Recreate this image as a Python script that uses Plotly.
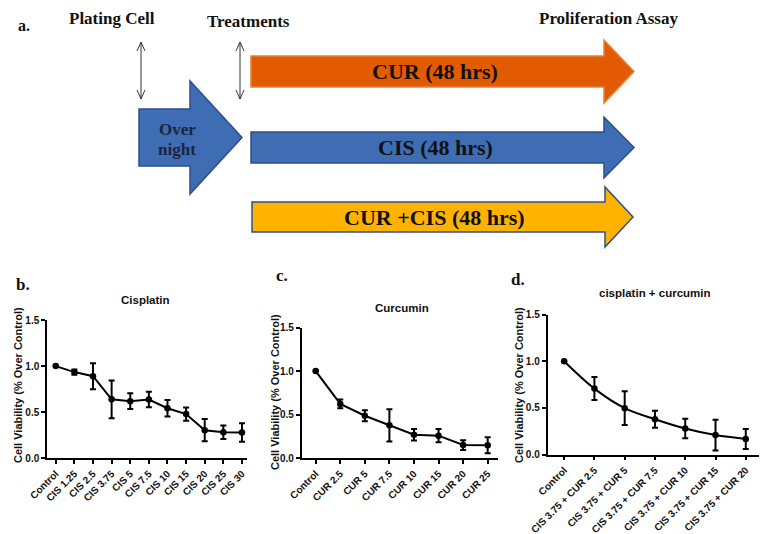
import plotly.graph_objects as go

# ---- data ----
cis_labels = ["Control", "CIS 1.25", "CIS 2.5", "CIS 3.75", "CIS 5", "CIS 7.5",
              "CIS 10", "CIS 15", "CIS 20", "CIS 25", "CIS 30"]
cis_mean = [1.0, 0.935, 0.89, 0.64, 0.62, 0.638, 0.543, 0.48, 0.305, 0.283, 0.28]
cis_err = [0, 0.028, 0.14, 0.205, 0.085, 0.085, 0.09, 0.072, 0.12, 0.074, 0.10]

cur_labels = ["Control", "CUR 2.5", "CUR 5", "CUR 7.5", "CUR 10", "CUR 15",
              "CUR 20", "CUR 25"]
cur_mean = [1.0, 0.623, 0.488, 0.378, 0.27, 0.26, 0.152, 0.15]
cur_err = [0, 0.05, 0.063, 0.185, 0.065, 0.077, 0.056, 0.092]

combo_labels = ["Control", "CIS 3.75 + CUR 2.5", "CIS 3.75 + CUR 5",
                "CIS 3.75 + CUR 7.5", "CIS 3.75 + CUR 10", "CIS 3.75 + CUR 15",
                "CIS 3.75 + CUR 20"]
combo_mean = [1.0, 0.707, 0.498, 0.379, 0.28, 0.21, 0.168]
combo_err = [0, 0.123, 0.18, 0.09, 0.105, 0.165, 0.107]

y_ticks = [0, 0.5, 1.0, 1.5]
y_ticktext = ["0.0", "0.5", "1.0", "1.5"]

# page is 767x534, the html body adds an 8px margin, so the figure is 8px smaller
PAGE_W, PAGE_H = 767, 534
OFF = 8
W, H = PAGE_W - OFF, PAGE_H - OFF
SANS = "Liberation Sans"
SERIF = "Liberation Serif"


def px_x(p):
    return (p - OFF) / W


def px_y(p):
    return 1 - (p - OFF) / H


fig = go.Figure()

# ---- panels b, c, d ----
panels = [
    # labels, mean, err, x-axis px (left,right), y px (top 1.5, bottom 0), xrange, shape
    (cis_labels, cis_mean, cis_err, (47, 247), (320, 458.3), (-0.47, 10.27), "linear"),
    (cur_labels, cur_mean, cur_err, (301.7, 498), (327.5, 458.3), (-0.57, 7.42), "linear"),
    (combo_labels, combo_mean, combo_err, (547.5, 760), (314.5, 454.7), (-0.55, 6.47), "spline"),
]

for i, (labels, mean, err, xpx, ypx, xr, shape) in enumerate(panels, start=1):
    sfx = "" if i == 1 else str(i)
    fig.add_trace(go.Scatter(
        x=list(range(len(labels))), y=mean,
        mode="lines+markers",
        line=dict(color="black", width=2, shape=shape),
        marker=dict(color="black", size=6.5),
        error_y=dict(type="data", array=err, visible=True,
                     color="black", thickness=2, width=3),
        xaxis="x" + sfx, yaxis="y" + sfx,
        showlegend=False, hoverinfo="skip",
    ))
    axis_common = dict(showline=True, linecolor="black", linewidth=1.5,
                       ticks="outside", ticklen=4, tickwidth=1.5, tickcolor="black",
                       showgrid=False, zeroline=False,
                       tickfont=dict(family=SANS, size=10, color="#111", weight="bold"))
    fig.layout["xaxis" + sfx] = dict(
        domain=[px_x(xpx[0]), px_x(xpx[1])], range=list(xr),
        tickvals=list(range(len(labels))), ticktext=labels, tickangle=-45,
        anchor="y" + sfx, automargin=False, **axis_common)
    fig.layout["yaxis" + sfx] = dict(
        domain=[px_y(ypx[1]), px_y(ypx[0])], range=[0, 1.5],
        tickvals=y_ticks, ticktext=y_ticktext,
        anchor="x" + sfx, automargin=False, **axis_common)

# ---- overlay axis in page-pixel units for the schematic ----
fig.add_trace(go.Scatter(x=[OFF], y=[OFF], mode="markers", marker=dict(opacity=0),
                         xaxis="x4", yaxis="y4", showlegend=False, hoverinfo="skip"))
fig.layout["xaxis4"] = dict(domain=[0, 1], range=[OFF, PAGE_W], visible=False, fixedrange=True)
fig.layout["yaxis4"] = dict(domain=[0, 1], range=[PAGE_H, OFF], visible=False, fixedrange=True)


def arrow_path(x0, yt, yb, hx, ht, hb, tip):
    yc = (ht + hb) / 2
    return (f"M {x0},{yt} L {hx},{yt} L {hx},{ht} L {tip},{yc} "
            f"L {hx},{hb} L {hx},{yb} L {x0},{yb} Z")


shapes = []
# big arrows: (x0, body top, body bottom, head x, head top, head bottom, tip x, fill, border)
arrows = [
    (251, 56, 87, 604, 40, 103, 634, "#E25B02", "#E8803A"),
    (251, 132, 163, 604, 117, 178, 634, "#3E6DB4", "#2C4F88"),
    (252, 202, 232, 605, 187, 247, 633, "#FFB300", "#2F5189"),
    (139, 109, 166, 190, 81, 194, 242, "#3E6DB4", "#2C4F88"),
]
for x0, yt, yb, hx, ht, hb, tip, fill, border in arrows:
    shapes.append(dict(type="path", xref="x4", yref="y4",
                       path=arrow_path(x0, yt, yb, hx, ht, hb, tip),
                       fillcolor=fill, line=dict(color=border, width=1.5)))

# thin double-headed arrows
for xc in (141, 240):
    shapes.append(dict(type="line", xref="x4", yref="y4", x0=xc, x1=xc, y0=42, y1=99,
                       line=dict(color="#333", width=1)))
    shapes.append(dict(type="path", xref="x4", yref="y4",
                       path=f"M {xc-4},{51} L {xc},{42} L {xc+4},{51}",
                       line=dict(color="#333", width=1)))
    shapes.append(dict(type="path", xref="x4", yref="y4",
                       path=f"M {xc-4},{90} L {xc},{99} L {xc+4},{90}",
                       line=dict(color="#333", width=1)))

fig.update_layout(shapes=shapes)


def ann(text, x, y, size, family=SERIF, bold=True, color="#111", angle=0):
    fig.add_annotation(text=text, x=x, y=y, xref="x4", yref="y4", showarrow=False,
                       textangle=angle, xanchor="center", yanchor="middle",
                       font=dict(family=family, size=size, color=color,
                                 weight="bold" if bold else "normal"))


ann("a.", 24, 25, 16)
ann("Plating Cell", 112, 18, 17)
ann("Treatments", 248, 21, 17)
ann("Proliferation Assay", 608, 18, 17)
ann("Over", 177, 129, 17, color="#1B2540")
ann("night", 177, 149, 17, color="#1B2540")
ann("CUR (48 hrs)", 435, 71, 22)
ann("CIS (48 hrs)", 435, 147, 22)
ann("CUR +CIS (48 hrs)", 434, 217, 22)

ann("b.", 23, 284, 17)
ann("c.", 282, 275, 17)
ann("d.", 518, 279, 17)

ann("Cisplatin", 145, 300, 11.5, family=SANS)
ann("Curcumin", 402, 308, 11.5, family=SANS)
ann("cisplatin + curcumin", 655, 293, 11.5, family=SANS)

ytitle = "Cell Viability (% Over Control)"
ann(ytitle, 18, 385, 11, family=SANS, angle=-90)
ann(ytitle, 275, 392, 11, family=SANS, angle=-90)
ann(ytitle, 519, 385, 11, family=SANS, angle=-90)

fig.update_layout(width=W, height=H, margin=dict(l=0, r=0, t=0, b=0, autoexpand=False),
                  paper_bgcolor="white", plot_bgcolor="rgba(0,0,0,0)")

fig.write_html("out.html")
